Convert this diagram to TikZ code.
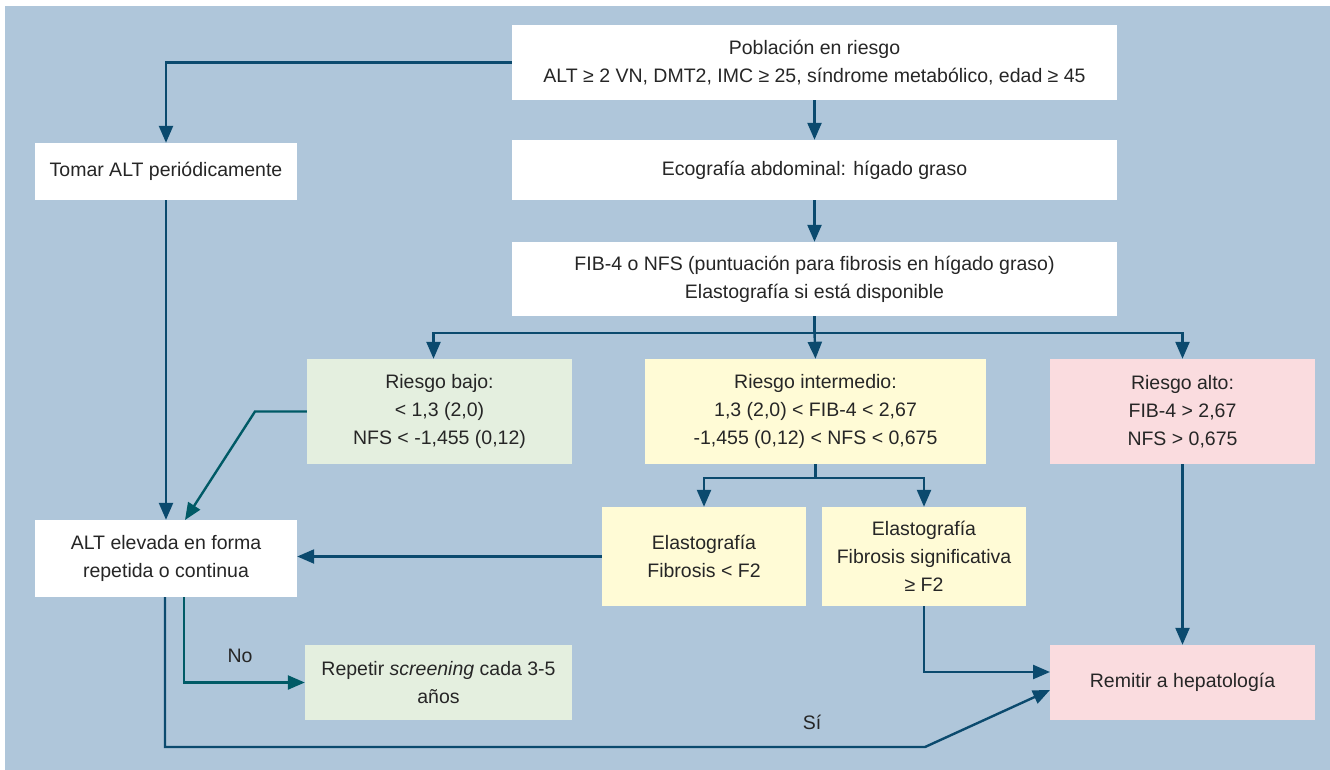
\documentclass[tikz,border=0pt]{standalone}
\usepackage{fontspec}
\setmainfont{Liberation Sans}
\usetikzlibrary{arrows.meta}
\definecolor{bg}{HTML}{AFC6DA}
\definecolor{arrblue}{HTML}{0B4A6E}
\definecolor{arrteal}{HTML}{005A66}
\definecolor{fgreen}{HTML}{E4EFDF}
\definecolor{fyellow}{HTML}{FFFBD6}
\definecolor{fpink}{HTML}{FADCDF}
\definecolor{txt}{HTML}{262626}
\begin{document}
\begin{tikzpicture}[x=1pt,y=-1pt,
  box/.style={fill=white, draw=none, inner sep=0pt, align=center, text=txt,
    font=\fontsize{19.5}{28}\selectfont},
  arr/.style={draw=arrblue, line width=2.4pt, -{Triangle[length=17pt,width=14pt]}},
  ln/.style={draw=arrblue, line width=2.4pt},
  arrt/.style={draw=arrteal, line width=2.4pt, -{Triangle[length=17pt,width=14pt]}},
  lbl/.style={text=txt, font=\fontsize{19.5}{28}\selectfont, inner sep=0pt}]
\useasboundingbox (0,0) rectangle (1330,770);
\fill[white] (0,0) rectangle (1330,770);
\fill[bg] (5,6) rectangle (1330,770);

\node[box, minimum width=605pt, minimum height=75pt] (pob) at (814.5,62.5)
  {Población en riesgo\\ALT ≥ 2 VN, DMT2, IMC ≥ 25, síndrome metabólico, edad ≥ 45};
\node[box, minimum width=262pt, minimum height=57pt] (tomar) at (166,171.5)
  {Tomar ALT periódicamente};
\node[box, minimum width=605pt, minimum height=60pt] (eco) at (814.5,170)
  {Ecografía abdominal: hígado graso};
\node[box, minimum width=605pt, minimum height=74pt] (fib) at (814.5,279)
  {FIB-4 o NFS (puntuación para fibrosis en hígado graso)\\Elastografía si está disponible};
\node[box, fill=fgreen, minimum width=265pt, minimum height=105pt] (bajo) at (439.5,411.5)
  {Riesgo bajo:\\< 1,3 (2,0)\\NFS < -1,455 (0,12)};
\node[box, fill=fyellow, minimum width=341pt, minimum height=105pt] (inter) at (815.5,411.5)
  {Riesgo intermedio:\\1,3 (2,0) < FIB-4 < 2,67\\-1,455 (0,12) < NFS < 0,675};
\node[box, fill=fpink, minimum width=265pt, minimum height=105pt] (alto) at (1182.5,411.5)
  {Riesgo alto:\\FIB-4 > 2,67\\NFS > 0,675};
\node[box, minimum width=262pt, minimum height=77pt] (alt) at (166,558.5)
  {ALT elevada en forma\\repetida o continua};
\node[box, fill=fyellow, minimum width=204pt, minimum height=99pt] (e1) at (704,556.5)
  {Elastografía\\Fibrosis < F2};
\node[box, fill=fyellow, minimum width=204pt, minimum height=99pt] (e2) at (924,556.5)
  {Elastografía\\Fibrosis significativa\\≥ F2};
\node[box, fill=fgreen, minimum width=267pt, minimum height=75pt] (rep) at (438.5,682.5)
  {Repetir \emph{screening} cada 3-5\\años};
\node[box, fill=fpink, minimum width=265pt, minimum height=75pt] (rem) at (1182.5,682.5)
  {Remitir a hepatología};

% top
\draw[arr] (pob.west) -| (tomar.north);
\draw[arr] (pob.south) -- (eco.north);
\draw[arr] (eco.south) -- (fib.north);
% fib split
\coordinate (s1) at (814.5,333);
\draw[ln] (fib.south) -- (s1);
\draw[arr] (s1) -| ([xshift=-6pt]bajo.north);
\draw[arr] (s1) -- (inter.north);
\draw[arr] (s1) -| (alto.north);
% tomar -> alt
\draw[arr] (tomar.south) -- (alt.north);
% bajo -> alt
\coordinate (b1) at (255,411.5);
\coordinate (b2) at (185,520);
\draw[arrt] (bajo.west) -- (b1) -- (b2);
% inter split
\coordinate (s2) at (815.5,478);
\draw[ln] (inter.south) -- (s2);
\draw[arr] (s2) -| (e1.north);
\draw[arr] (s2) -| (e2.north);
% e1 -> alt
\draw[arr] (e1.west) -- (e1.west -| alt.east);
% e2 -> rem
\coordinate (r1) at (1050,672);
\draw[arr] (e2.south) |- (r1);
% alto -> rem
\draw[arr] (alto.south) -- (rem.north);
% No
\coordinate (an) at (184,597);
\draw[arrt] (an) |- (rep.west);
\node[lbl] (no) at (240,656) {No};
% Si
\coordinate (as) at (165,597);
\coordinate (c1) at (165,747);
\coordinate (c2) at (925,747);
\coordinate (r2) at (1050,690);
\draw[arr] (as) -- (c1) -- (c2) -- (r2);
\node[lbl] (si) at (812,722) {Sí};
\end{tikzpicture}
\end{document}
